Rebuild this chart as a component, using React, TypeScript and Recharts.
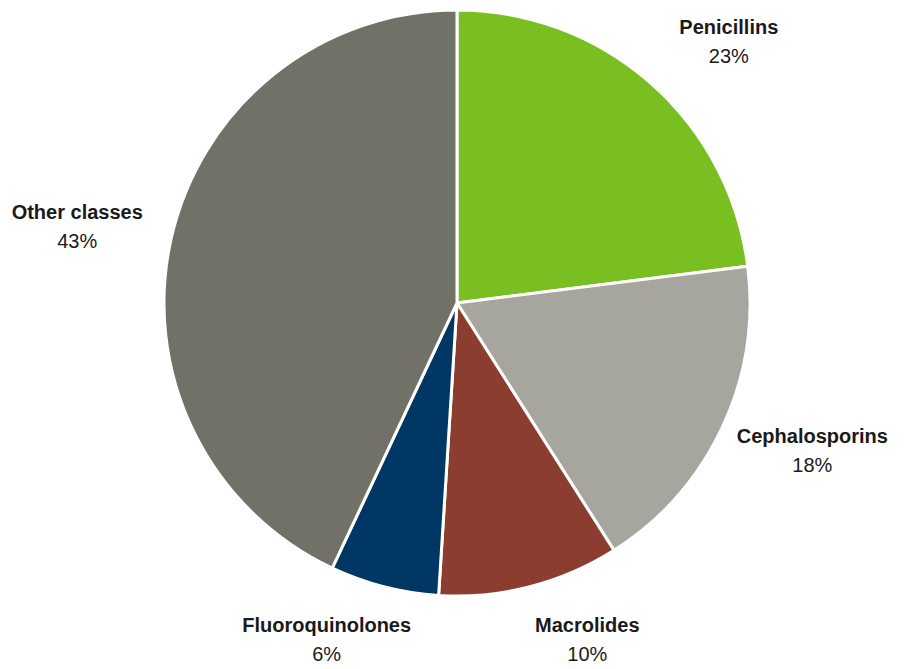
import React from 'react';
import { PieChart, Pie, Cell } from 'recharts';

const classes = ['Penicillins', 'Cephalosporins', 'Macrolides', 'Fluoroquinolones', 'Other classes'];
const shares = [23, 18, 10, 6, 43];
const colors = ['#7ABF21', '#A6A69E', '#8B3E2F', '#003764', '#717168'];

const data = classes.map((name, i) => ({ name, value: shares[i] }));

const RAD = Math.PI / 180;
const FONT = "'Liberation Sans', Arial, sans-serif";

const renderLabel = (props: any) => {
  const { cx, cy, midAngle, outerRadius, name, value } = props;
  const c = Math.cos(-midAngle * RAD);
  const s = Math.sin(-midAngle * RAD);
  const x = cx + (outerRadius + 50) * c + 45 * Math.sign(c);
  const y = cy + (outerRadius + 55) * s;
  return (
    <g>
      <text x={x} y={y - 8} textAnchor="middle" fill="#1a1a1a" fontSize={20} fontWeight="bold" fontFamily={FONT}>
        {name}
      </text>
      <text x={x} y={y + 21} textAnchor="middle" fill="#1a1a1a" fontSize={20} fontFamily={FONT}>
        {value}%
      </text>
    </g>
  );
};

const App: React.FC = () => {
  return (
    <div style={{ position: 'absolute', left: 0, top: 0, width: 912, height: 669, background: '#fff' }}>
      <PieChart width={912} height={669} margin={{ top: 0, right: 0, bottom: 0, left: 0 }}>
        <Pie
          data={data}
          dataKey="value"
          nameKey="name"
          cx={457}
          cy={303}
          outerRadius={293}
          startAngle={90}
          endAngle={-270}
          stroke="#ffffff"
          strokeWidth={3}
          label={renderLabel}
          labelLine={false}
          isAnimationActive={false}
        >
          {data.map((d, i) => (
            <Cell key={d.name} fill={colors[i]} />
          ))}
        </Pie>
      </PieChart>
    </div>
  );
};

export default App;
